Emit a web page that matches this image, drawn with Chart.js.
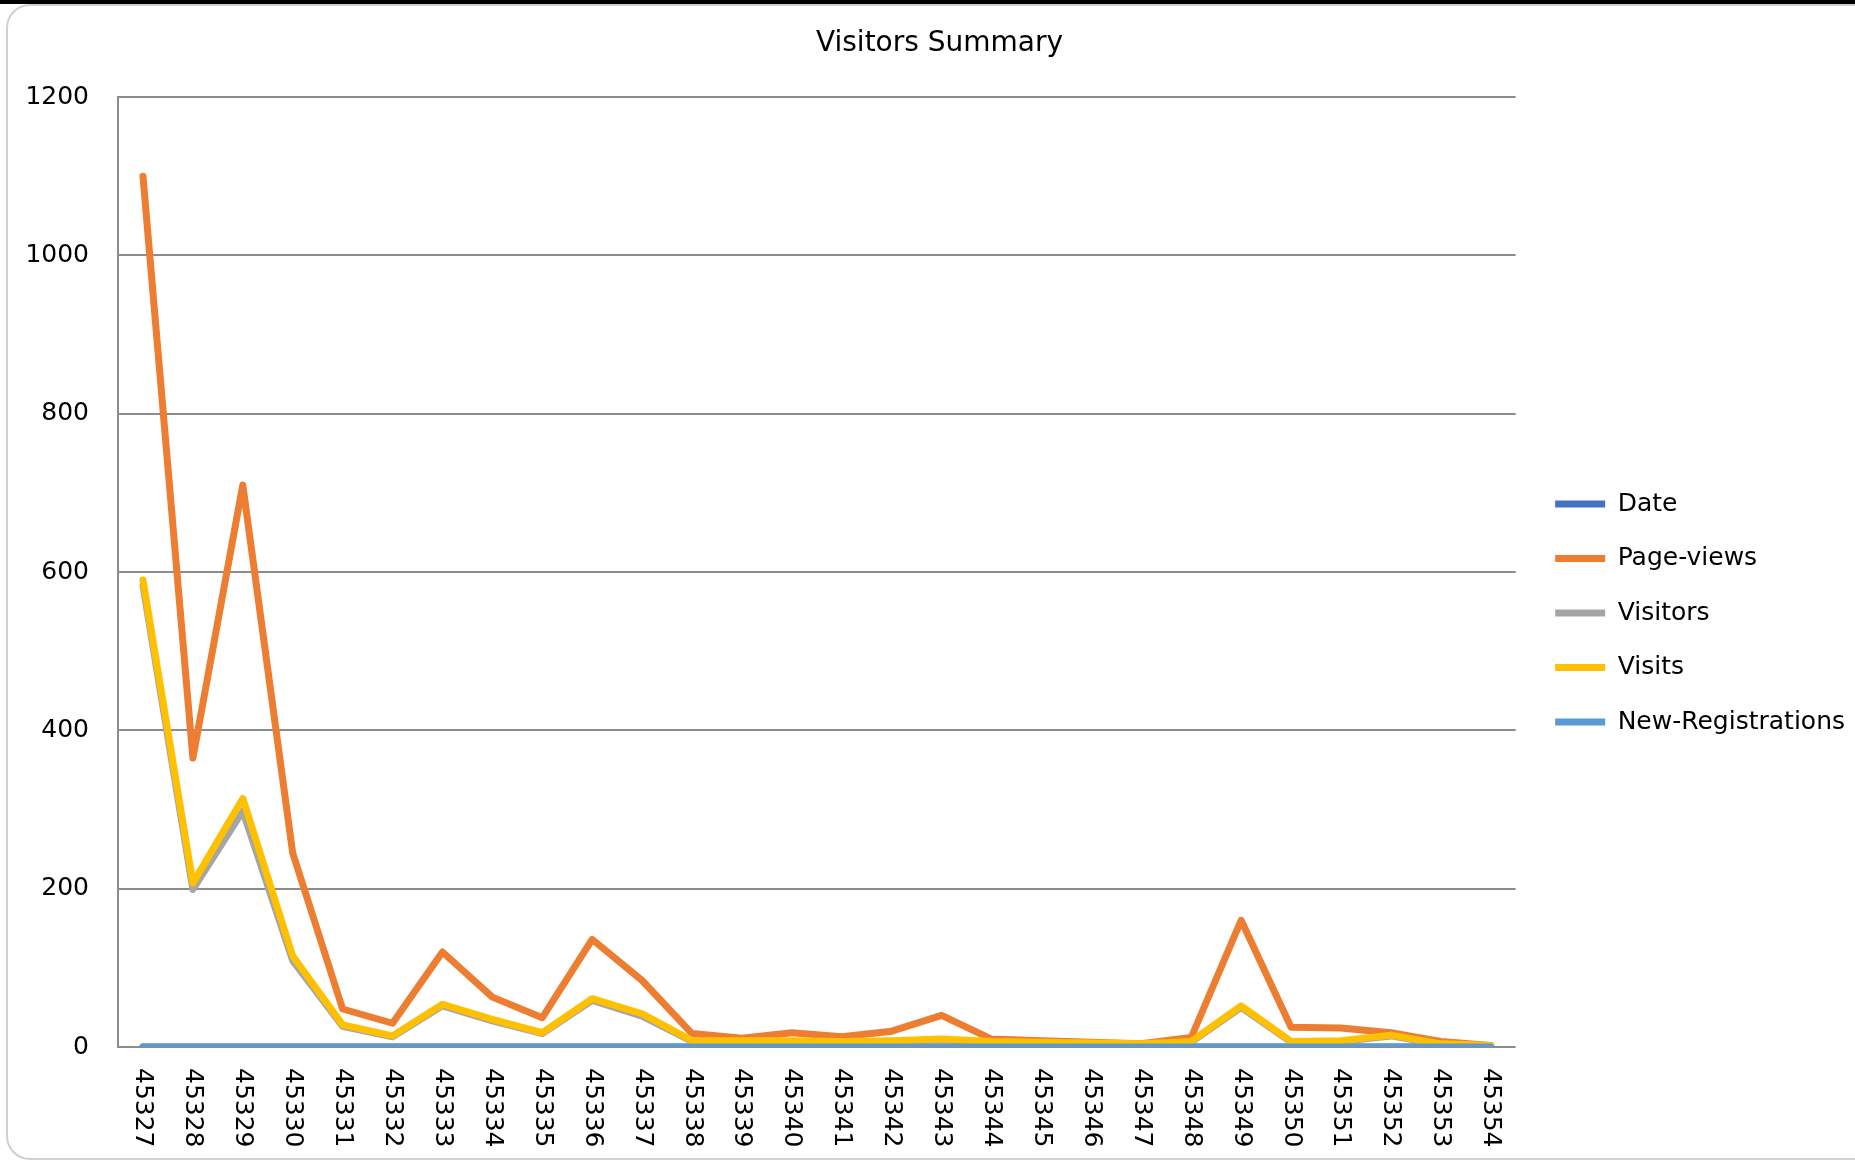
<!DOCTYPE html>
<html>
<head>
<meta charset="utf-8">
<title>Visitors Summary</title>
<script src="https://cdn.jsdelivr.net/npm/chart.js@4.4.0/dist/chart.umd.min.js"></script>
<style>
    html, body { margin: 0; padding: 0; background: #fff; overflow: hidden; }
    .topbar { position: absolute; left: 0; top: 0; width: 1855px; height: 4px; background: #000; }
    .frame { position: absolute; left: 6px; top: 4px; width: 1900px; height: 1156px;
             border: 2px solid #d0d0d0; border-radius: 24px; box-sizing: border-box; }
    #wrap { position: absolute; left: 0; top: 0; width: 1855px; height: 1161px; }
</style>
</head>
<body>
<div class="topbar"></div>
<div class="frame"></div>
<div id="wrap"><canvas id="visitorsChart" width="1855" height="1161"></canvas></div>
<script>
// datos
const dateCodes = [45327, 45328, 45329, 45330, 45331, 45332, 45333, 45334, 45335, 45336,
    45337, 45338, 45339, 45340, 45341, 45342, 45343, 45344, 45345, 45346,
    45347, 45348, 45349, 45350, 45351, 45352, 45353, 45354];

const dateValues = [0, 0, 0, 0, 0, 0, 0, 0, 0, 0, 0, 0, 0, 0, 0, 0, 0, 0, 0, 0, 0, 0, 0, 0, 0, 0, 0, 0];
const pageViews = [1100, 365, 710, 245, 48, 30, 120, 63, 37, 136, 84, 17, 11, 18, 13, 20, 40, 10, 8, 6, 4, 12, 160, 25, 24, 18, 7, 2];
const visitors = [583, 199, 298, 109, 26, 13, 52, 33, 17, 59, 39, 7, 7, 7, 6, 7, 9, 6, 5, 4, 3, 6, 50, 6, 7, 14, 3, 2];
const visits = [590, 207, 314, 115, 28, 14, 54, 35, 18, 61, 42, 8, 8, 8, 7, 8, 10, 7, 6, 5, 4, 7, 52, 7, 8, 15, 4, 2];
const newRegistrations = [0, 0, 0, 0, 0, 0, 0, 0, 0, 0, 0, 0, 0, 0, 0, 0, 0, 0, 0, 0, 0, 0, 0, 0, 0, 0, 0, 0];

const yTicks = [0, 200, 400, 600, 800, 1000, 1200];

const FONT = "'DejaVu Sans'";
const GRID = '#8c8c8c';

Chart.defaults.font.family = FONT;
Chart.defaults.color = '#000';

function serie(label, data, color, order) {
    return {
        label: label,
        data: data,
        borderColor: color,
        backgroundColor: color,
        borderWidth: 7,
        borderCapStyle: 'round',
        borderJoinStyle: 'round',
        pointRadius: 0,
        tension: 0,
        fill: false,
        order: order
    };
}

// etiquetas del eje X giradas 90 grados (se leen de arriba a abajo)
const xLabelsPlugin = {
    id: 'xLabels',
    afterDraw(chart) {
        const scale = chart.scales.x;
        const ctx = chart.ctx;
        ctx.save();
        ctx.font = '25px ' + FONT;
        ctx.fillStyle = '#000';
        ctx.textAlign = 'left';
        ctx.textBaseline = 'middle';
        dateCodes.forEach((code, i) => {
            const x = scale.getPixelForValue(i);
            ctx.save();
            ctx.translate(x, scale.top + 21);
            ctx.rotate(Math.PI / 2);
            ctx.fillText(String(code), 0, 0);
            ctx.restore();
        });
        ctx.restore();
    }
};

const ctx = document.getElementById('visitorsChart').getContext('2d');
new Chart(ctx, {
    type: 'line',
    data: {
        labels: dateCodes.map(String),
        datasets: [
            serie('Date', dateValues, '#4472C4', 4),
            serie('Page-views', pageViews, '#ED7D31', 3),
            serie('Visitors', visitors, '#A5A5A5', 2),
            serie('Visits', visits, '#FFC000', 1),
            serie('New-Registrations', newRegistrations, '#5B9BD5', 0)
        ]
    },
    options: {
        responsive: false,
        devicePixelRatio: 1,
        animation: false,
        layout: {
            padding: { left: 24, right: 0, top: 0, bottom: 0 }
        },
        plugins: {
            title: {
                display: true,
                text: 'Visitors Summary',
                color: '#000',
                font: { size: 28, weight: 'normal' },
                padding: { top: 27, bottom: 36.4 }
            },
            legend: {
                position: 'right',
                align: 'center',
                maxWidth: 360,
                title: {
                    display: true,
                    text: '',
                    font: { size: 10 },
                    padding: { top: 53, bottom: 0 }
                },
                labels: {
                    font: { size: 25 },
                    color: '#000',
                    usePointStyle: true,
                    pointStyle: 'line',
                    pointStyleWidth: 50,
                    padding: 29.5,
                    sort: (a, b) => a.datasetIndex - b.datasetIndex
                }
            },
            tooltip: { enabled: false }
        },
        scales: {
            x: {
                type: 'category',
                offset: true,
                grid: { display: false },
                border: { display: false },
                ticks: { display: false },
                afterFit: s => { s.height = 1161 - 1047; }
            },
            y: {
                position: 'left',
                min: 0,
                max: 1200,
                afterBuildTicks: s => { s.ticks = yTicks.map(v => ({ value: v })); },
                grid: { color: GRID, lineWidth: 2, drawTicks: false },
                border: { display: true, color: GRID, width: 2 },
                ticks: {
                    font: { size: 25 },
                    color: '#000',
                    padding: 29,
                    callback: v => String(v)
                },
                afterFit: s => { s.width = 118 - 24; }
            },
            yGap: {
                position: 'right',
                display: true,
                grid: { display: false },
                border: { display: false },
                ticks: { display: false },
                afterFit: s => { s.width = 10; }
            }
        }
    },
    plugins: [xLabelsPlugin]
});
</script>
</body>
</html>
